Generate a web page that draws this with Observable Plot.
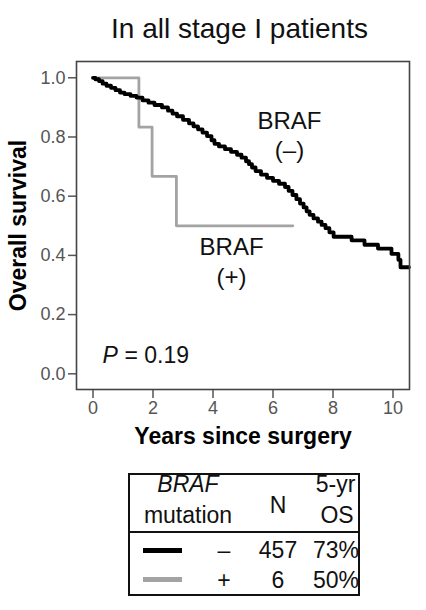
<!DOCTYPE html>
<html>
<head>
<meta charset="utf-8">
<script src="https://cdn.jsdelivr.net/npm/d3@7"></script>
<script src="https://cdn.jsdelivr.net/npm/@observablehq/plot@0.6"></script>
<style>
  html, body { margin: 0; padding: 0; background: #fff; }
  body { font-family: Arial, "Liberation Sans", sans-serif; }
  #wrap { position: relative; width: 426px; height: 610px; overflow: hidden; }
  #title { position: absolute; left: 70px; width: 339px; top: 15px; text-align: center;
           font-size: 28px; line-height: 28px; color: #111; white-space: nowrap; }
  #chart { position: absolute; left: 0; top: 0; }
  #legend { position: absolute; left: 128px; top: 473px; width: 232px; height: 123px;
            box-sizing: border-box; border: 2px solid #111; }
  .t { position: absolute; width: 120px; text-align: center; font-size: 23px; line-height: 23px;
       color: #111; white-space: nowrap; }
  .sw { position: absolute; height: 5px; }
  .div { position: absolute; height: 2px; background: #111; }
</style>
</head>
<body>
<div id="wrap">
  <div id="chart"></div>
  <div id="title"></div>
  <div id="legend"></div>
</div>
<script>
// ---- data ----
const titleText = "In all stage I patients";
const xLabel = "Years since surgery";
const yLabel = "Overall survival";
const pValue = "0.19";

// BRAF (–) Kaplan–Meier curve
const negTime = [0, 0.08, 0.2, 0.32, 0.45, 0.6, 0.75, 0.9, 1.05, 1.25, 1.45, 1.65, 1.85, 2.05, 2.3, 2.5,
  2.65, 2.8, 3.0, 3.2, 3.35, 3.5, 3.65, 3.8, 3.95, 4.05, 4.2, 4.4, 4.6, 4.8, 4.95, 5.1, 5.2, 5.3, 5.42,
  5.6, 5.8, 6.0, 6.2, 6.4, 6.52, 6.65, 6.78, 6.9, 7.02, 7.12, 7.22, 7.35, 7.5, 7.62, 7.75, 7.88, 8.02,
  8.62, 9.05, 9.5, 9.95, 10.18, 10.25, 10.53];
const negSurv = [1.000, 0.995, 0.989, 0.980, 0.973, 0.966, 0.958, 0.950, 0.945, 0.939, 0.933, 0.924,
  0.916, 0.908, 0.900, 0.889, 0.879, 0.870, 0.858, 0.846, 0.836, 0.826, 0.815, 0.803, 0.789, 0.777,
  0.768, 0.759, 0.750, 0.740, 0.730, 0.718, 0.708, 0.697, 0.685, 0.673, 0.662, 0.652, 0.642, 0.631,
  0.618, 0.604, 0.590, 0.575, 0.562, 0.549, 0.537, 0.525, 0.514, 0.503, 0.492, 0.478, 0.463, 0.451,
  0.436, 0.423, 0.405, 0.385, 0.360, 0.360];

// BRAF (+) Kaplan–Meier curve
const posTime = [0, 1.53, 1.97, 2.78, 6.66];
const posSurv = [1.000, 0.833, 0.667, 0.500, 0.500];

const xTicks = [0, 2, 4, 6, 8, 10];
const yTicks = [0.0, 0.2, 0.4, 0.6, 0.8, 1.0];

// in-plot curve labels (data units)
const curveLabelText = ["BRAF\n(\u2013)", "BRAF\n(+)"];
const curveLabelT = [6.55, 4.62];
const curveLabelS = [0.810, 0.384];

// table
const groupSigns = ["\u2013", "+"];
const groupN = [457, 6];
const groupOS5 = ["73%", "50%"];
const groupColors = ["#000000", "#a3a3a3"];

// ---- build ----
const neg = negTime.map((t, i) => ({t, s: negSurv[i]}));
const pos = posTime.map((t, i) => ({t, s: posSurv[i]}));
const labels = curveLabelText.map((label, i) => ({label, t: curveLabelT[i], s: curveLabelS[i]}));

document.getElementById("title").textContent = titleText;

const chart = Plot.plot({
  width: 426,
  height: 470,
  marginLeft: 76,
  marginRight: 17,
  marginTop: 61,
  marginBottom: 81,
  style: {fontFamily: 'Arial, "Liberation Sans", sans-serif', fontSize: "18px", color: "#555", background: "transparent", overflow: "visible"},
  x: {domain: [-0.55, 10.55]},
  y: {domain: [-0.053, 1.055]},
  marks: [
    Plot.axisX({ticks: xTicks, tickSize: 9, tickPadding: 3, tickFormat: d => String(d), label: null, strokeWidth: 1.5, fontSize: 18}),
    Plot.axisY({ticks: yTicks, tickSize: 8, tickPadding: 3, tickFormat: d3.format(".1f"), label: null, strokeWidth: 1.5, fontSize: 18}),
    Plot.line(pos, {x: "t", y: "s", curve: "step-after", stroke: groupColors[1], strokeWidth: 2.8}),
    Plot.line(neg, {x: "t", y: "s", curve: "step-after", stroke: groupColors[0], strokeWidth: 3.8}),
    Plot.frame({stroke: "#444", strokeWidth: 1.6}),
    Plot.text(labels, {x: "t", y: "s", text: "label", fontSize: 24, lineHeight: 1.24, fill: "#111"}),
    Plot.text([xLabel], {text: d => d, frameAnchor: "bottom", textAnchor: "middle", dy: 54, fontWeight: "bold", fontSize: 23, fill: "#000"}),
    Plot.text([yLabel], {text: d => d, frameAnchor: "left", textAnchor: "middle", rotate: -90, dx: -58, fontWeight: "bold", fontSize: 23, fill: "#000"}),
    Plot.text(["P"], {text: d => d, frameAnchor: "bottom-left", dx: 26, dy: -27, textAnchor: "start", fontStyle: "italic", fontSize: 23, fill: "#111"}),
    Plot.text(["= " + pValue], {text: d => d, frameAnchor: "bottom-left", dx: 48, dy: -27, textAnchor: "start", fontSize: 23, fill: "#111"})
  ]
});
document.getElementById("chart").appendChild(chart);

// legend table (positions relative to the legend box's padding edge: box at 128,473 with 2px border)
const legend = document.getElementById("legend");
const ox = 130, oy = 475;
function put(text, cx, baseline, extra) {
  const d = document.createElement("div");
  d.className = "t";
  d.textContent = text;
  d.style.left = (cx - 60 - ox) + "px";
  d.style.top = (baseline - 19.1 - oy) + "px";
  if (extra) Object.assign(d.style, extra);
  legend.appendChild(d);
}
put("BRAF", 188, 491.7, {fontStyle: "italic"});
put("mutation", 188, 523);
put("N", 278, 513.5);
put("5-yr", 335.5, 491.7);
put("OS", 337, 523);
const dv = document.createElement("div");
dv.className = "div";
dv.style.left = "0px"; dv.style.width = "228px"; dv.style.top = (530.7 - oy) + "px";
legend.appendChild(dv);
const rowBase = [558.3, 588];
const rowLineY = [550.7, 579.3];
groupSigns.forEach((sg, i) => {
  const sw = document.createElement("div");
  sw.className = "sw";
  sw.style.left = (143 - ox) + "px";
  sw.style.width = "39px";
  sw.style.top = (rowLineY[i] - 2.5 - oy) + "px";
  sw.style.background = groupColors[i];
  legend.appendChild(sw);
  put(sg, 224, rowBase[i]);
  put(String(groupN[i]), 278, rowBase[i]);
  put(groupOS5[i], 336, rowBase[i]);
});
</script>
</body>
</html>
